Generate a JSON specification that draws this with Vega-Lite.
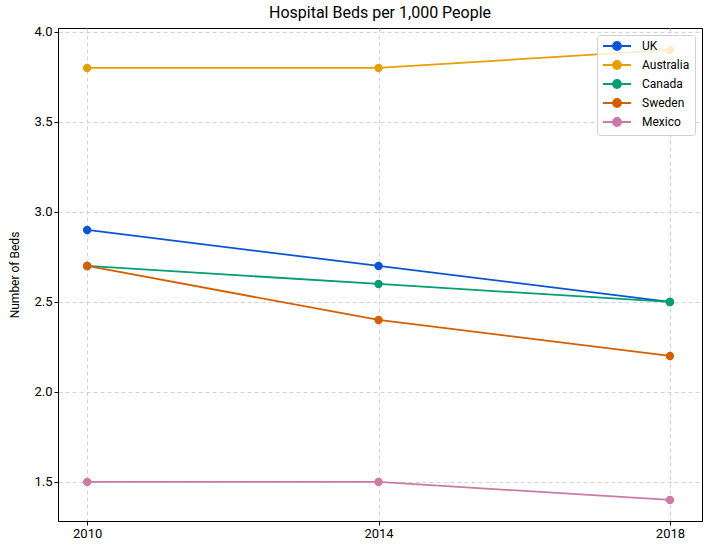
{
  "$schema": "https://vega.github.io/schema/vega-lite/v6.json",
  "autosize": {"type": "none"},
  "width": 644,
  "height": 493,
  "padding": {"left": 58, "top": 28, "right": 9, "bottom": 33},
  "title": {"text": "Hospital Beds per 1,000 People", "fontSize": 16, "fontWeight": "normal", "font": "Roboto", "color": "#000", "offset": 5},
  "data": {
    "values": [
      {"year": 2010, "country": "UK", "beds": 2.9},
      {"year": 2014, "country": "UK", "beds": 2.7},
      {"year": 2018, "country": "UK", "beds": 2.5},
      {"year": 2010, "country": "Australia", "beds": 3.8},
      {"year": 2014, "country": "Australia", "beds": 3.8},
      {"year": 2018, "country": "Australia", "beds": 3.9},
      {"year": 2010, "country": "Canada", "beds": 2.7},
      {"year": 2014, "country": "Canada", "beds": 2.6},
      {"year": 2018, "country": "Canada", "beds": 2.5},
      {"year": 2010, "country": "Sweden", "beds": 2.7},
      {"year": 2014, "country": "Sweden", "beds": 2.4},
      {"year": 2018, "country": "Sweden", "beds": 2.2},
      {"year": 2010, "country": "Mexico", "beds": 1.5},
      {"year": 2014, "country": "Mexico", "beds": 1.5},
      {"year": 2018, "country": "Mexico", "beds": 1.4}
    ]
  },
  "mark": {"type": "line", "strokeWidth": 1.8, "point": {"filled": true, "size": 70, "opacity": 1}},
  "encoding": {
    "x": {
      "field": "year",
      "type": "quantitative",
      "scale": {"domain": [2009.6, 2018.44], "nice": false, "zero": false},
      "axis": {"values": [2010, 2014, 2018], "format": "d", "title": null}
    },
    "y": {
      "field": "beds",
      "type": "quantitative",
      "scale": {"domain": [1.283, 4.022], "nice": false, "zero": false},
      "axis": {"values": [1.5, 2.0, 2.5, 3.0, 3.5, 4.0], "format": ".1f", "title": "Number of Beds", "titlePadding": 12}
    },
    "color": {
      "field": "country",
      "type": "nominal",
      "sort": ["UK", "Australia", "Canada", "Sweden", "Mexico"],
      "scale": {
        "domain": ["UK", "Australia", "Canada", "Sweden", "Mexico"],
        "range": ["#0b55d4", "#e69f00", "#009e73", "#d55e00", "#cc79a7"]
      },
      "legend": {
        "title": null,
        "orient": "top-right",
        "offset": 7,
        "padding": 5,
        "fillColor": "rgba(255,255,255,0.8)",
        "strokeColor": "#d0d0d0",
        "cornerRadius": 3,
        "symbolType": "M-1,0L4.6,0M1,0A0.8,0.8 0 1,1 2.6,0A0.8,0.8 0 1,1 1,0Z",
        "symbolSize": 100,
        "symbolStrokeWidth": 1.8,
        "rowPadding": 3,
        "labelFontSize": 12,
        "labelFont": "Roboto",
        "labelColor": "#000",
        "labelOffset": 28,
        "encode": {
          "symbols": {"update": {"fill": {"scale": "color", "field": "value"}, "stroke": {"scale": "color", "field": "value"}, "opacity": {"value": 1}}}
        }
      }
    }
  },
  "config": {
    "font": "Roboto",
    "view": {"stroke": "#000", "strokeWidth": 1},
    "axis": {
      "grid": true,
      "gridDash": [4, 3],
      "gridColor": "#c8c8c8",
      "gridWidth": 0.8,
      "domainColor": "#000",
      "tickColor": "#000",
      "tickSize": 4,
      "labelFontSize": 13,
      "labelColor": "#000",
      "labelFont": "Roboto",
      "titleFont": "Roboto",
      "titleFontSize": 12,
      "titleFontWeight": "normal",
      "titleColor": "#000"
    }
  }
}
